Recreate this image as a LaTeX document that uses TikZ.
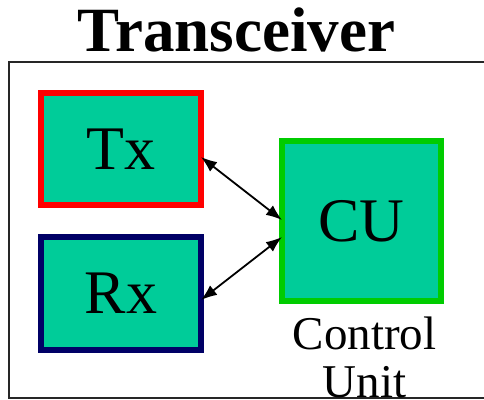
\documentclass[tikz,border=0pt]{standalone}
\usepackage{fontspec}
\setmainfont{Liberation Serif}
\usepackage{xcolor}
\usetikzlibrary{arrows.meta}
\usetikzlibrary{positioning}
\definecolor{unitfill}{HTML}{00CC99}
\definecolor{txline}{HTML}{FF0000}
\definecolor{rxline}{HTML}{000066}
\definecolor{culine}{HTML}{00CC00}
\tikzset{
    unitbox/.style={draw=#1, fill=unitfill, line width=6pt, inner sep=0pt, outer sep=0pt,
        font=\fontsize{62}{62}\selectfont},
    link/.style={{Latex[length=16pt,width=12pt]}-{Latex[length=16pt,width=12pt]}, line width=1.8pt}
}

\begin{document}
\begin{tikzpicture}[x=1pt, y=-1pt]
                \useasboundingbox (0,0) rectangle (484,399);
                \draw[line width=1.8pt, black!85] (9,61.7) rectangle (500,398);
                \node[anchor=base, font=\fontsize{63}{63}\selectfont\bfseries] (title) at (236.5,51) {Transceiver};
                \node[unitbox=txline, minimum width=160pt, minimum height=112pt] (Tx) at (121,149) {Tx};
                \node[unitbox=rxline, minimum width=160pt, minimum height=113pt] (Rx) at (121,293.5) {Rx};
                \node[unitbox=culine, minimum width=159pt, minimum height=160pt] (CU) at (361.5,221) {CU};
                \node[below=16pt of CU, xshift=3pt, inner sep=0pt, align=center,
                    font=\fontsize{47}{48}\selectfont] (CUlabel) {Control\\Unit};
                \draw[link] ([yshift=-8pt]Tx.east) -- ([yshift=1pt]CU.west);
                \draw[link] ([yshift=-16pt]CU.west) -- ([yshift=-6.5pt]Rx.east);
            \end{tikzpicture}
\end{document}
